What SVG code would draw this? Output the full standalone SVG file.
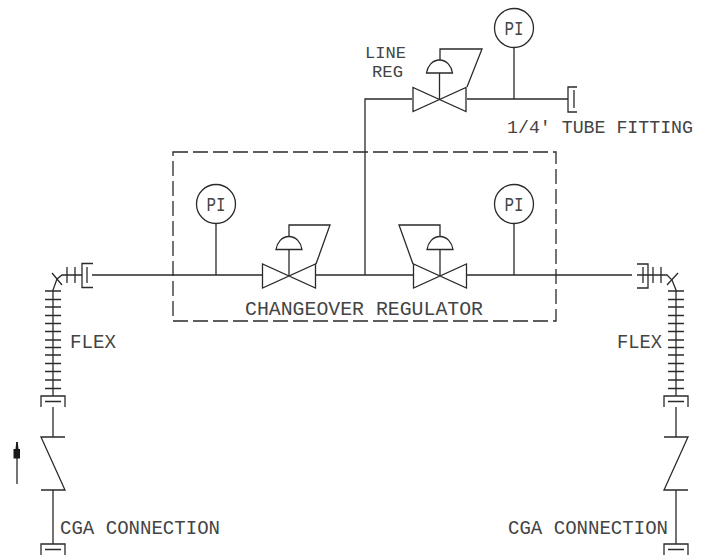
<svg xmlns="http://www.w3.org/2000/svg" width="705" height="555" viewBox="0 0 705 555">
<style>
.l{fill:none;stroke:#2a2a2a;stroke-width:1.3}
.c{fill:#fff;stroke:#2a2a2a;stroke-width:1.3}
.d{fill:none;stroke:#2a2a2a;stroke-width:1.3;stroke-dasharray:15 5}
text{font-family:"Liberation Mono",monospace;fill:#444;font-size:20.5px}
</style>
<defs>
<g id="valve"><path class="l" d="M-26.500,-11.500V12.500L26.500,-11.500V12.500Z"/><path class="l" d="M0,0V-26"/><path class="l" d="M-13,-26H13C12,-33 7,-39 0,-39C-7,-39 -12,-33 -13,-26Z"/></g>
<g id="pi"><circle class="c" r="19.500"/><text x="-9.500" y="6.500" textLength="19" lengthAdjust="spacingAndGlyphs">PI</text></g>
<g id="flangeV"><path class="l" d="M-12,11V0H12V11M-8,5.500H8"/></g>
<path id="ticks" class="l" d="M-8,291H8M-8,299.500H8M-8,307H8M-8,315.500H8M-8,323.500H8M-8,331.500H8M-8,340H8M-8,347.500H8M-8,355H8M-8,363.500H8M-8,371.500H8M-8,380H8M-8,388.500H8"/>
</defs>

<g id="connectors">
<path class="l" d="M92,275H263M316,275H413M467,275H632"/>
<path class="l" d="M365,275V99H412M467,99H568"/>
<path class="l" d="M216,224V275M514,224V275M514,48V99"/>
<path class="l" d="M82,275H62L57,279L53,290V396"/>
<path class="l" d="M637,275H667L672,280L676,290V396"/>
<path class="l" d="M53,407V437M53,490V544M676,407V437M676,490V544"/>
</g>

<g id="changeover-box"><rect class="d" x="173" y="152" width="383" height="169"/></g>
<g id="label-changeover"><text x="245" y="315" textLength="238" lengthAdjust="spacingAndGlyphs">CHANGEOVER REGULATOR</text></g>

<g id="pi-left"><use href="#pi" x="216" y="204"/></g>
<g id="pi-right"><use href="#pi" x="514" y="204"/></g>
<g id="pi-top"><use href="#pi" x="514" y="28"/></g>

<g id="regulator-left"><use href="#valve" x="289" y="275.500"/><path class="l" d="M289,236V225H330L316,264"/></g>
<g id="regulator-right"><use href="#valve" x="440" y="275.500"/><path class="l" d="M440,236V225H399L413,264"/></g>
<g id="regulator-line"><use href="#valve" x="439.500" y="99"/><path class="l" d="M440,60V49H482L467,87"/></g>
<g id="label-line-reg"><text x="365" y="58" textLength="41" lengthAdjust="spacingAndGlyphs" style="font-size:16.500px">LINE</text><text x="372" y="76.500" textLength="31" lengthAdjust="spacingAndGlyphs" style="font-size:16.500px">REG</text></g>

<g id="tube-fitting"><path class="l" d="M577,87H568V112H577M574,90V108"/></g>
<g id="label-tube"><text x="507" y="133" textLength="186" lengthAdjust="spacingAndGlyphs" style="font-size:19px">1/4' TUBE FITTING</text></g>

<g id="fitting-left"><path class="l" d="M93,263.500H82V287.500H93M87,267V283M67,267V283M75,267V283M52,273L62,285"/></g>
<g id="fitting-right"><path class="l" d="M637,264H648V288H637M643,267V283M653,267V283M661,267V283M678,273L667,285"/></g>

<g id="flex-left"><use href="#ticks" x="53"/><use href="#flangeV" x="53" y="396"/></g>
<g id="flex-right"><use href="#ticks" x="676"/><use href="#flangeV" x="676" y="396"/></g>
<g id="label-flex"><text x="70" y="348" textLength="46" lengthAdjust="spacingAndGlyphs">FLEX</text><text x="617" y="348" textLength="45" lengthAdjust="spacingAndGlyphs">FLEX</text></g>

<g id="check-left"><path class="l" d="M65,437H41L65,490H41"/></g>
<g id="check-right"><path class="l" d="M664,437H688L664,490H688"/></g>

<g id="flow-arrow"><path class="l" d="M17,442V484"/><path fill="#1a1a1a" d="M16.300,442H17.700L18.500,449H20V458.500H13.500V449H15.500Z"/></g>

<g id="cga-left"><use href="#flangeV" x="53" y="544"/><text x="60" y="534" textLength="160" lengthAdjust="spacingAndGlyphs">CGA CONNECTION</text></g>
<g id="cga-right"><use href="#flangeV" x="676" y="544"/><text x="508" y="534" textLength="160" lengthAdjust="spacingAndGlyphs">CGA CONNECTION</text></g>
</svg>
